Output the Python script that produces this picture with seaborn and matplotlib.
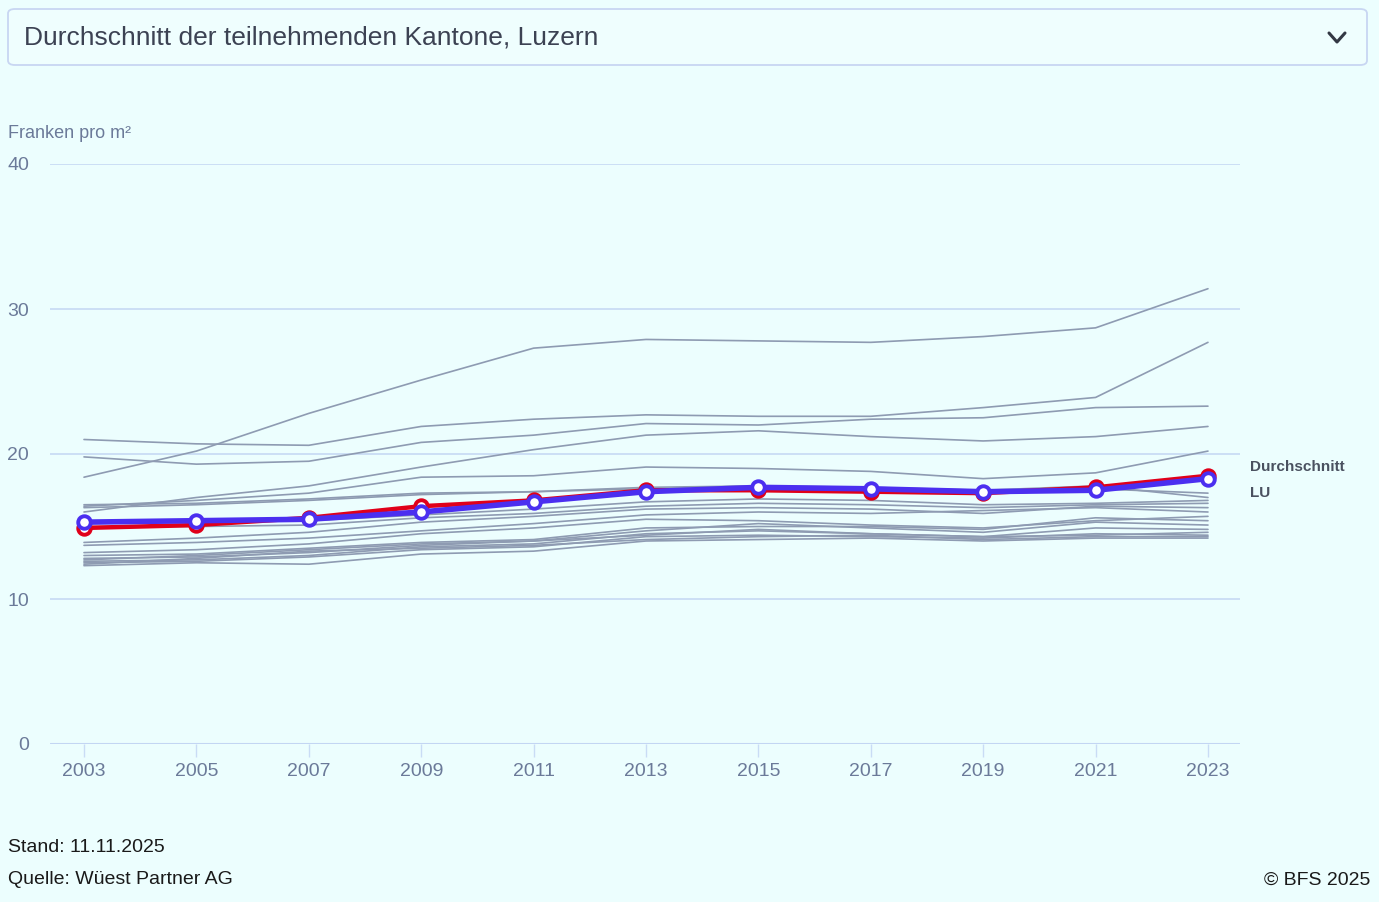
import numpy as np
import pandas as pd
import matplotlib.pyplot as plt
from matplotlib.patches import FancyBboxPatch
from matplotlib.lines import Line2D
import seaborn as sns

# Data (Franken pro m2)
years = [2003, 2005, 2007, 2009, 2011, 2013, 2015, 2017, 2019, 2021, 2023]

durchschnitt = [14.9, 15.1, 15.6, 16.4, 16.8, 17.5, 17.5, 17.4, 17.3, 17.7, 18.5]
luzern = [15.3, 15.4, 15.5, 16.0, 16.7, 17.4, 17.7, 17.6, 17.4, 17.5, 18.3]

kantone = {
    "k01": [18.4, 20.2, 22.8, 25.1, 27.3, 27.9, 27.8, 27.7, 28.1, 28.7, 31.4],
    "k02": [21.0, 20.7, 20.6, 21.9, 22.4, 22.7, 22.6, 22.6, 23.2, 23.9, 27.7],
    "k03": [19.8, 19.3, 19.5, 20.8, 21.3, 22.1, 22.0, 22.4, 22.5, 23.2, 23.3],
    "k04": [16.0, 17.0, 17.8, 19.1, 20.3, 21.3, 21.6, 21.2, 20.9, 21.2, 21.9],
    "k05": [16.4, 16.8, 17.3, 18.4, 18.5, 19.1, 19.0, 18.8, 18.3, 18.7, 20.2],
    "k06": [16.5, 16.6, 16.9, 17.3, 17.4, 17.7, 17.8, 17.6, 17.5, 17.6, 17.3],
    "k07": [16.3, 16.5, 16.8, 17.2, 17.4, 17.6, 17.8, 17.7, 17.5, 17.8, 17.0],
    "k08": [15.2, 15.3, 15.4, 15.8, 16.2, 16.7, 16.9, 16.8, 16.5, 16.6, 16.8],
    "k09": [15.0, 15.0, 15.1, 15.6, 15.9, 16.4, 16.6, 16.5, 16.3, 16.5, 16.6],
    "k10": [13.9, 14.2, 14.6, 15.3, 15.7, 16.2, 16.3, 16.2, 15.9, 16.4, 16.3],
    "k11": [13.7, 13.9, 14.2, 14.7, 15.2, 15.8, 16.0, 15.9, 16.1, 16.3, 16.0],
    "k12": [13.2, 13.4, 13.8, 14.5, 14.9, 15.5, 15.4, 15.1, 14.9, 15.4, 15.7],
    "k13": [13.0, 13.1, 13.5, 13.9, 14.1, 14.9, 15.0, 15.0, 14.8, 15.6, 15.4],
    "k14": [12.8, 12.9, 13.2, 13.7, 14.0, 14.7, 15.2, 14.9, 14.6, 15.3, 15.1],
    "k15": [12.6, 12.7, 13.0, 13.6, 13.8, 14.5, 14.7, 14.5, 14.3, 14.9, 14.8],
    "k16": [12.5, 12.6, 12.9, 13.4, 13.6, 14.3, 14.4, 14.3, 14.2, 14.5, 14.4],
    "k17": [12.3, 12.5, 12.4, 13.1, 13.3, 14.0, 14.1, 14.2, 14.0, 14.2, 14.2],
    "k18": [12.4, 12.8, 13.3, 13.5, 13.7, 14.1, 14.3, 14.4, 14.1, 14.3, 14.3],
    "k19": [12.7, 13.0, 13.4, 13.8, 14.0, 14.4, 14.8, 14.5, 14.3, 14.4, 14.6],
}

y_ticks = [0, 10, 20, 30, 40]

# long format for seaborn
gray_df = pd.DataFrame(
    [(k, y, v) for k, vals in kantone.items() for y, v in zip(years, vals)],
    columns=["kanton", "jahr", "wert"],
)
main_df = pd.DataFrame({"jahr": years, "Durchschnitt": durchschnitt, "LU": luzern})

bg = "#ecfefe"
tick_col = "#6b7a99"
grid_col = "#c9dcf5"

sns.set_theme(style="white")
plt.rcParams["font.family"] = ["Liberation Sans", "DejaVu Sans"]

fig = plt.figure(figsize=(13.79, 9.02), dpi=100, facecolor=bg)
W, H = 1379, 902
ax = fig.add_axes([50 / W, 1 - 744 / H, (1240 - 50) / W, (744 - 164) / H])
ax.set_facecolor(bg)

# grid
for yv in y_ticks[1:]:
    ax.axhline(yv, color=grid_col, lw=1.3, zorder=0)
ax.axhline(0, color="#c3d6f3", lw=2.2, zorder=0)

sns.lineplot(data=gray_df, x="jahr", y="wert", units="kanton", estimator=None,
             color="#8e9bb2", lw=1.2, ax=ax, legend=False, zorder=2)
sns.lineplot(data=main_df, x="jahr", y="Durchschnitt", color="#e0001a", lw=3.2,
             marker="o", markersize=9, markerfacecolor="white",
             markeredgecolor="#e0001a", markeredgewidth=2.8, ax=ax, zorder=3)
sns.lineplot(data=main_df, x="jahr", y="LU", color="#4b2ff0", lw=4,
             marker="o", markersize=9, markerfacecolor="white",
             markeredgecolor="#4b2ff0", markeredgewidth=2.8, ax=ax, zorder=4)

ax.set_xlim(2002.395, 2023.57)
ax.set_ylim(0, 40)
ax.set_xticks(years)
ax.set_xticklabels([str(y) for y in years])
ax.set_yticks(y_ticks)
ax.set_xlabel("")
ax.set_ylabel("")
for s in ax.spines.values():
    s.set_visible(False)
ax.tick_params(axis="x", length=9, width=1, color=grid_col, pad=5,
               labelsize=14, labelcolor=tick_col, bottom=True)
ax.tick_params(axis="y", length=0, pad=15, labelsize=14, labelcolor=tick_col)

# series labels on the right
ax.annotate("Durchschnitt", xy=(1250 / W, 1 - 467 / H), xycoords="figure fraction",
            fontsize=11, fontweight="bold", color="#4a5160", va="center")
ax.annotate("LU", xy=(1250 / W, 1 - 493 / H), xycoords="figure fraction",
            fontsize=11, fontweight="bold", color="#4a5160", va="center")

fig.text(8 / W, 1 - 133 / H, "Franken pro m²", fontsize=13, color=tick_col, va="center")

# dropdown box
box = FancyBboxPatch((8 / W, 1 - 65 / H), (1367 - 8) / W, 56 / H,
                     boxstyle="round,pad=0,rounding_size=0.005",
                     transform=fig.transFigure, facecolor="#effefe",
                     edgecolor="#c8d6f2", lw=1.3)
fig.patches.append(box)
fig.text(24 / W, 1 - 38 / H, "Durchschnitt der teilnehmenden Kantone, Luzern",
         fontsize=19, color="#3c4253", va="center")
fig.lines.append(Line2D([1329 / W, 1337 / W, 1345 / W],
                        [1 - 33 / H, 1 - 42 / H, 1 - 33 / H],
                        transform=fig.transFigure, color="#333844", lw=2.2))

# footer
fig.text(8 / W, 1 - 848 / H, "Stand: 11.11.2025", fontsize=14, color="#1a1a1a", va="center")
fig.text(8 / W, 1 - 880 / H, "Quelle: Wüest Partner AG", fontsize=14, color="#1a1a1a", va="center")
fig.text(1264 / W, 1 - 880 / H, "© BFS 2025", fontsize=14, color="#1a1a1a", va="center")

fig.savefig("out.png", dpi=100, facecolor=bg)
